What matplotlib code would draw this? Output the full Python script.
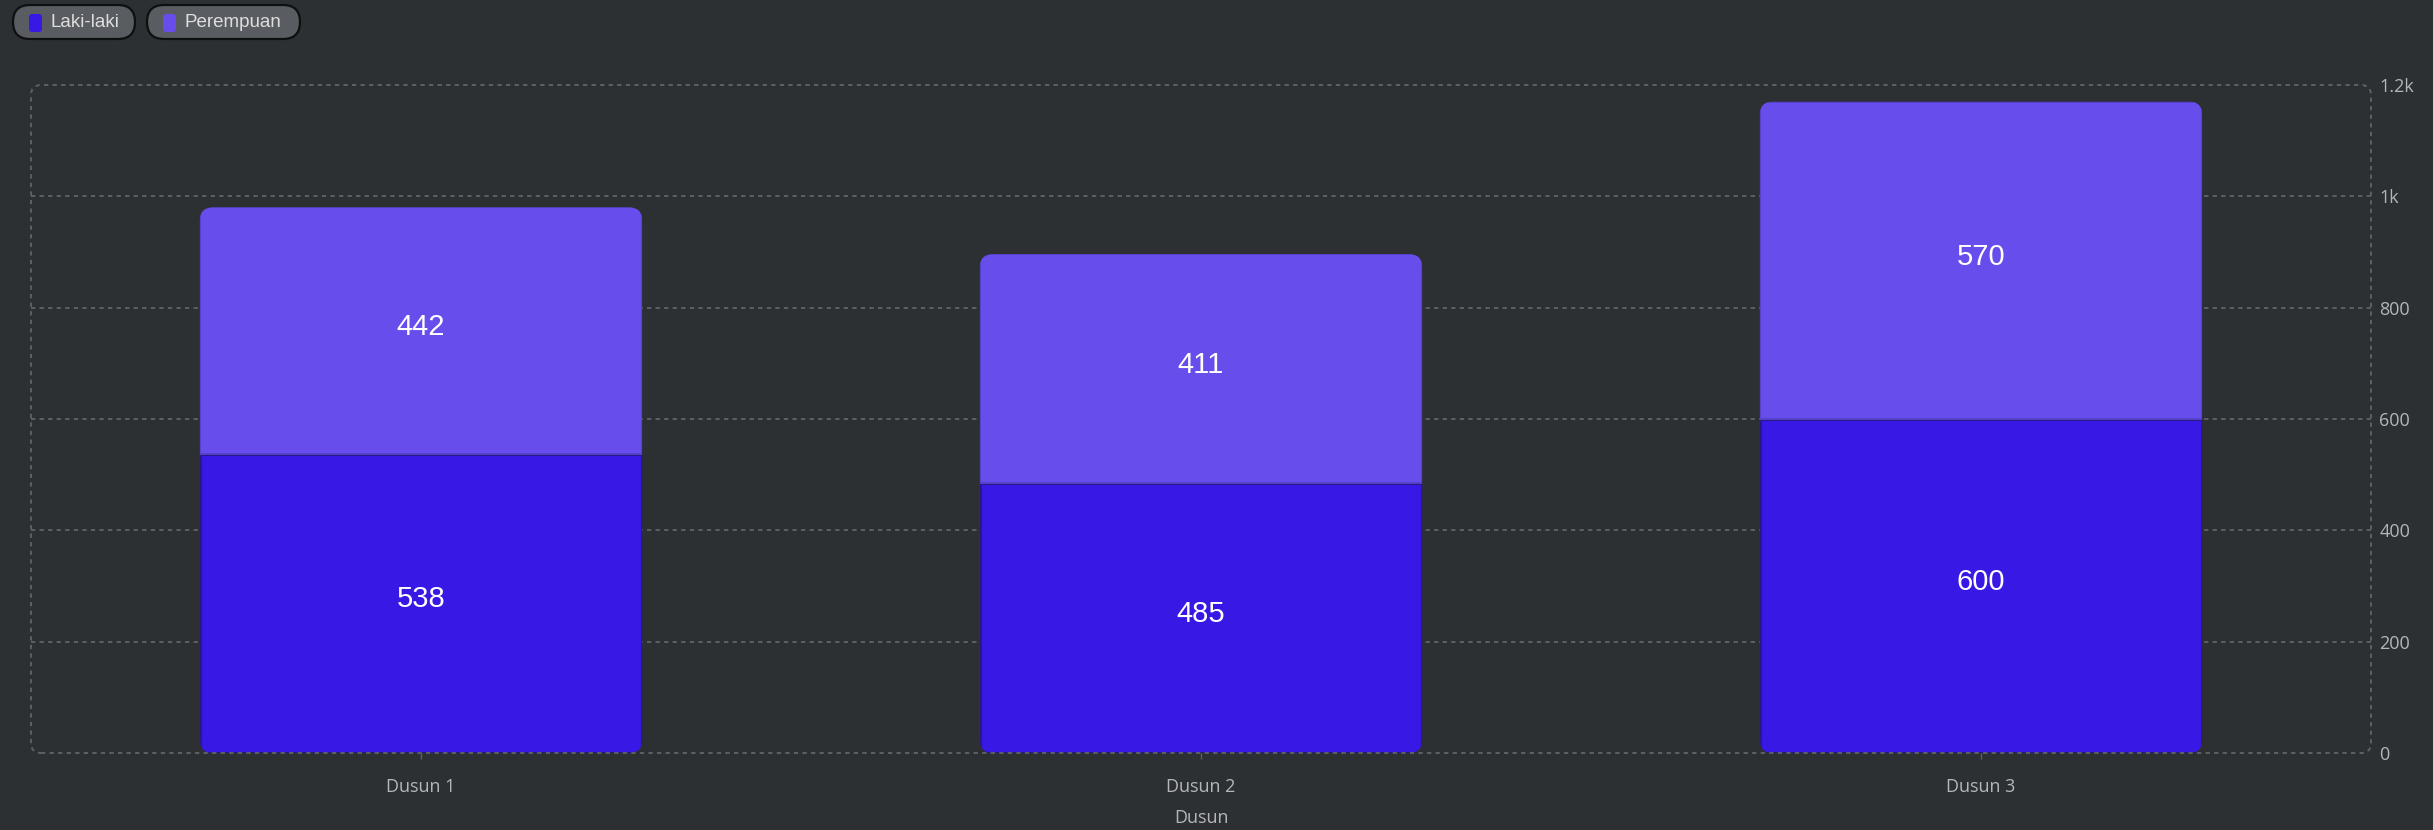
import matplotlib
matplotlib.use('Agg')
import matplotlib.pyplot as plt
import numpy as np
from matplotlib.patches import FancyBboxPatch
from matplotlib.transforms import IdentityTransform

categories = ['Dusun 1', 'Dusun 2', 'Dusun 3']
laki_laki = [538, 485, 600]
perempuan = [442, 411, 570]
series_names = ['Laki-laki', 'Perempuan']
y_ticks = [0, 200, 400, 600, 800, 1000, 1200]
y_tick_labels = ['0', '200', '400', '600', '800', '1k', '1.2k']
x_title = 'Dusun'

BG = '#2d3033'
COLORS = ['#3818e4', '#674eec']
GRID = '#5d6165'
TICK_TEXT = '#b4b6b8'

W, H = 2433, 830
fig = plt.figure(figsize=(W / 100, H / 100), dpi=100, facecolor=BG)
ax = fig.add_axes([31 / W, 1 - 753 / H, (2371 - 31) / W, (753 - 85) / H])
ax.set_facecolor(BG)

x = np.arange(len(categories))
width = 0.567
bars_l = ax.bar(x, laki_laki, width, color=COLORS[0], edgecolor='#281a86',
                linewidth=2.2, zorder=3)
bars_p = ax.bar(x, perempuan, width, bottom=laki_laki, color=COLORS[1],
                edgecolor='#5641c9', linewidth=1.4, zorder=3)

ax.set_xlim(-0.5, 2.5)
ax.set_ylim(0, 1200)

# rounded corners: clip each stack with a rounded box in pixel space
totals = np.array(laki_laki) + np.array(perempuan)
for i in range(len(categories)):
    x0, y0 = ax.transData.transform((x[i] - width / 2, 0))
    x1, y1 = ax.transData.transform((x[i] + width / 2, totals[i]))
    clip = FancyBboxPatch((x0, y0), x1 - x0, y1 - y0,
                          boxstyle='round,pad=0,rounding_size=13',
                          transform=IdentityTransform())
    bars_l[i].set_clip_path(clip)
    bars_p[i].set_clip_path(clip)

# value labels
for i in range(len(categories)):
    ax.text(x[i], laki_laki[i] / 2 + 8, str(laki_laki[i]), ha='center', va='center',
            color='white', fontsize=21, family='Liberation Sans', zorder=4)
    ax.text(x[i], laki_laki[i] + perempuan[i] / 2 + 6, str(perempuan[i]), ha='center',
            va='center', color='white', fontsize=21, family='Liberation Sans', zorder=4)

# grid and frame
for yv in y_ticks[1:-1]:
    ax.axhline(yv, color=GRID, linewidth=1.4, linestyle=(0, (2.2, 2.2)), zorder=1)
fx0, fy0 = ax.transAxes.transform((0, 0))
fx1, fy1 = ax.transAxes.transform((1, 1))
frame = FancyBboxPatch((fx0, fy0), fx1 - fx0, fy1 - fy0,
                       boxstyle='round,pad=0,rounding_size=10',
                       transform=IdentityTransform(), facecolor='none',
                       edgecolor=GRID, linewidth=1.4, linestyle=(0, (2.2, 2.2)))
fig.add_artist(frame)
for s in ax.spines.values():
    s.set_visible(False)

ax.yaxis.tick_right()
ax.set_yticks(y_ticks)
ax.set_yticklabels(y_tick_labels, family='Open Sans', fontsize=13, color=TICK_TEXT)
ax.tick_params(axis='y', length=0, pad=6)
ax.set_xticks(x)
ax.set_xticklabels(categories, family='Open Sans', fontsize=13, color=TICK_TEXT)
ax.tick_params(axis='x', length=4, width=1, color=GRID, pad=14)
ax.set_xlabel(x_title, family='Open Sans', fontsize=13, color=TICK_TEXT, labelpad=9)

# legend pills at the top left
pill_x = [13, 147]
pill_w = [122, 153]
for name, color, px, pw in zip(series_names, COLORS, pill_x, pill_w):
    pill = FancyBboxPatch((px, H - 39), pw, 34,
                          boxstyle='round,pad=0,rounding_size=17',
                          transform=IdentityTransform(), facecolor='#595c60',
                          edgecolor='#0e0f10', linewidth=1.6)
    fig.add_artist(pill)
    mark = FancyBboxPatch((px + 16, H - 32), 13, 18,
                          boxstyle='round,pad=0,rounding_size=3',
                          transform=IdentityTransform(), facecolor=color,
                          edgecolor='none')
    fig.add_artist(mark)
    fig.text(px + 37, H - 22, name, transform=IdentityTransform(), ha='left',
             va='center', color='#dedede', fontsize=13.5, family='Liberation Sans')

fig.savefig('out.png', dpi=100, facecolor=BG)
